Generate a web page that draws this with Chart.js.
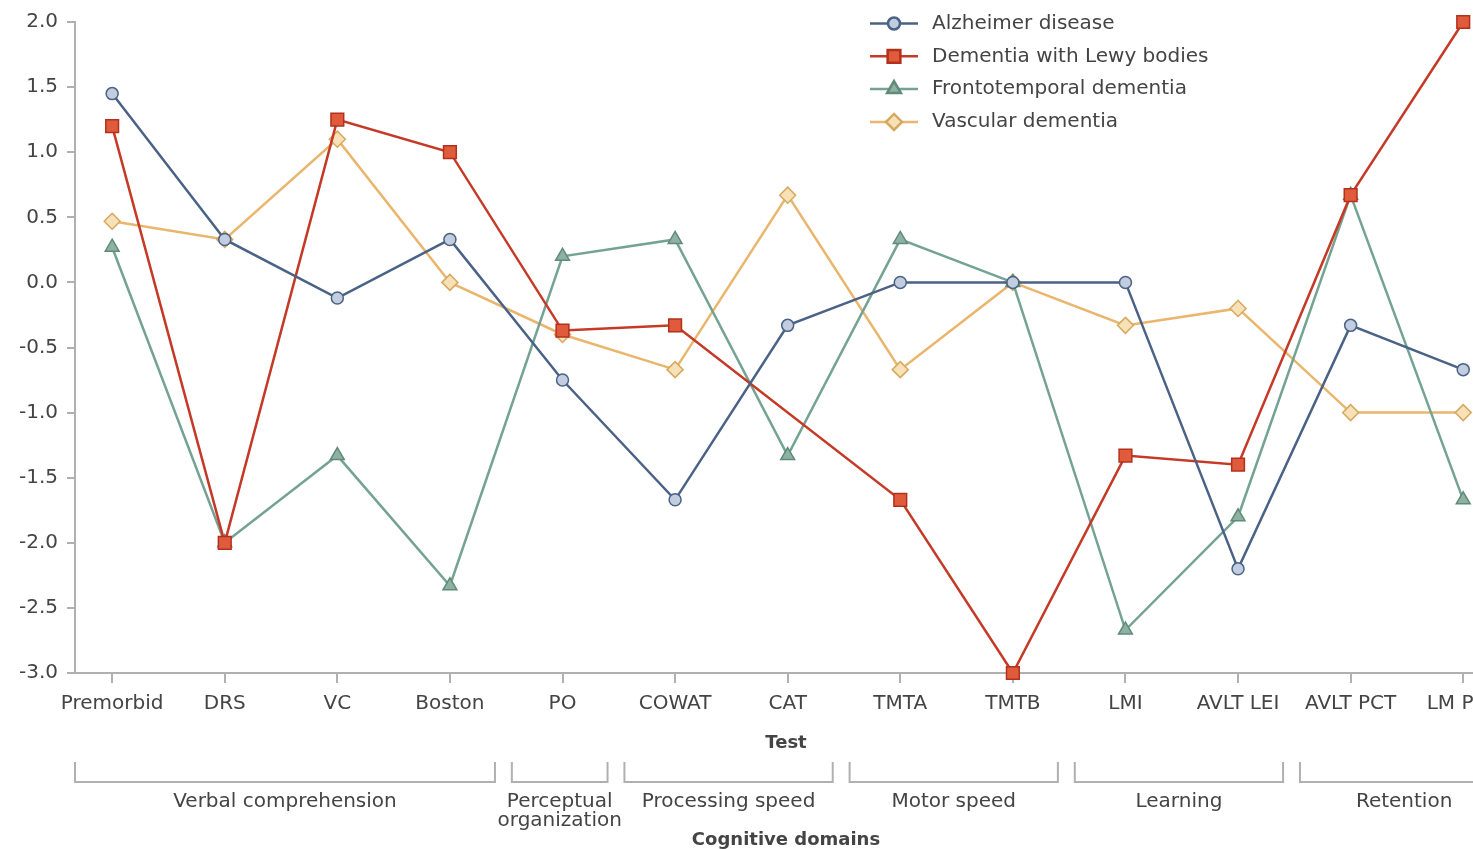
<!DOCTYPE html>
<html>
<head>
<meta charset="utf-8">
<title>Cognitive domains</title>
<script src="https://cdn.jsdelivr.net/npm/chart.js@4.4.1/dist/chart.umd.min.js"></script>
<style>
    html, body { margin: 0; padding: 0; background: #fff; overflow: hidden; }
    #wrap { width: 1510px; height: 849px; }
</style>
</head>
<body>
<div id="wrap"><canvas id="domainChart"></canvas></div>
<script>
const tests = ['Premorbid', 'DRS', 'VC', 'Boston', 'PO', 'COWAT', 'CAT', 'TMTA', 'TMTB', 'LMI', 'AVLT LEI', 'AVLT PCT', 'LM PCT'];

const alzheimer = [1.45, 0.33, -0.12, 0.33, -0.75, -1.67, -0.33, 0, 0, 0, -2.2, -0.33, -0.67];
const lewyBodies = [1.2, -2.0, 1.25, 1.0, -0.37, -0.33, null, -1.67, -3.0, -1.33, -1.4, 0.67, 2.0];
const frontotemporal = [0.27, -2.0, -1.33, -2.33, 0.2, 0.33, -1.33, 0.33, 0, -2.67, -1.8, 0.67, -1.67];
const vascular = [0.47, 0.33, 1.1, 0, -0.4, -0.67, 0.67, -0.67, 0, -0.33, -0.2, -1.0, -1.0];

const domains = ['Verbal comprehension', 'Perceptual\norganization', 'Processing speed', 'Motor speed', 'Learning', 'Retention'];
const domainFirst = [0, 4, 5, 7, 9, 11];
const domainLast = [3, 4, 6, 8, 10, 12];

const FONT = 'DejaVu Sans';
const TEXT = '#444';
const AXIS = '#b0b0b0';

function toPoints(values) {
    return values.map(function(v, i) { return { x: i, y: v }; });
}

// brackets with cognitive domain names under the test axis
const domainBrackets = {
    id: 'domainBrackets',
    afterDraw(chart) {
        const ctx = chart.ctx;
        const xs = chart.scales.x;
        const area = chart.chartArea;
        const step = xs.getPixelForValue(1) - xs.getPixelForValue(0);
        const yTop = area.bottom + 89;
        const yBase = area.bottom + 109;

        ctx.save();
        ctx.strokeStyle = AXIS;
        ctx.lineWidth = 2;
        ctx.fillStyle = TEXT;
        ctx.font = '20px "' + FONT + '"';
        ctx.textAlign = 'center';
        ctx.textBaseline = 'middle';

        domains.forEach(function(name, k) {
            const x1 = Math.max(area.left, xs.getPixelForValue(domainFirst[k]) - step * 0.45);
            const x2 = xs.getPixelForValue(domainLast[k]) + step * 0.4;
            ctx.beginPath();
            ctx.moveTo(x1, yTop);
            ctx.lineTo(x1, yBase);
            ctx.lineTo(x2, yBase);
            ctx.lineTo(x2, yTop);
            ctx.stroke();
            name.split('\n').forEach(function(line, i) {
                ctx.fillText(line, (x1 + x2) / 2, area.bottom + 129 + i * 19);
            });
        });

        ctx.font = 'bold 18px "' + FONT + '"';
        ctx.fillText('Cognitive domains', (area.left + area.right) / 2, area.bottom + 167);
        ctx.restore();
    }
};

// legend drawn as line + marker, like the print figure
const lineLegend = {
    id: 'lineLegend',
    afterDraw(chart) {
        const ctx = chart.ctx;
        const area = chart.chartArea;
        const lx = area.left + 795;
        const ly = area.top + 1.5;

        ctx.save();
        ctx.font = '20px "' + FONT + '"';
        ctx.textAlign = 'left';
        ctx.textBaseline = 'middle';

        chart.data.datasets.forEach(function(ds, i) {
            const y = ly + i * 32.8;
            ctx.strokeStyle = ds.borderColor;
            ctx.lineWidth = 2.5;
            ctx.beginPath();
            ctx.moveTo(lx, y);
            ctx.lineTo(lx + 48, y);
            ctx.stroke();

            ctx.fillStyle = ds.pointBackgroundColor;
            ctx.strokeStyle = ds.pointBorderColor;
            Chart.helpers.drawPoint(ctx, {
                pointStyle: ds.pointStyle,
                radius: ds.pointRadius,
                rotation: 0,
                borderWidth: 1.5
            }, lx + 24, y);

            ctx.fillStyle = TEXT;
            ctx.fillText(ds.label, lx + 62, y);
        });
        ctx.restore();
    }
};

document.addEventListener("DOMContentLoaded", function() {
    const ctx = document.getElementById('domainChart').getContext('2d');

    new Chart(ctx, {
        type: 'line',
        data: {
            datasets: [
                {
                    label: 'Alzheimer disease',
                    data: toPoints(alzheimer),
                    borderColor: '#4a6285',
                    borderWidth: 2.5,
                    pointStyle: 'circle',
                    pointRadius: 6,
                    pointBackgroundColor: '#c3cde0',
                    pointBorderColor: '#4a6285',
                    pointBorderWidth: 1.5,
                },
                {
                    label: 'Dementia with Lewy bodies',
                    data: toPoints(lewyBodies),
                    borderColor: '#c43a26',
                    borderWidth: 2.5,
                    spanGaps: true,
                    pointStyle: 'rect',
                    pointRadius: 9,
                    pointBackgroundColor: '#df5b3c',
                    pointBorderColor: '#b3301d',
                    pointBorderWidth: 1.5,
                },
                {
                    label: 'Frontotemporal dementia',
                    data: toPoints(frontotemporal),
                    borderColor: '#74a293',
                    borderWidth: 2.5,
                    pointStyle: 'triangle',
                    pointRadius: 8,
                    pointBackgroundColor: '#8fb1a2',
                    pointBorderColor: '#5f8b7b',
                    pointBorderWidth: 1.5,
                },
                {
                    label: 'Vascular dementia',
                    data: toPoints(vascular),
                    borderColor: '#eab56c',
                    borderWidth: 2.5,
                    pointStyle: 'rectRot',
                    pointRadius: 8,
                    pointBackgroundColor: '#f7e2b8',
                    pointBorderColor: '#d6a860',
                    pointBorderWidth: 1.5,
                },
            ],
        },
        options: {
            responsive: true,
            maintainAspectRatio: false,
            animation: false,
            clip: false,
            layout: {
                padding: { top: 22, right: 13, bottom: 0, left: 0 }
            },
            scales: {
                x: {
                    type: 'linear',
                    min: -0.33,
                    max: 12.3,
                    afterBuildTicks: function(scale) {
                        scale.ticks = tests.map(function(_, i) { return { value: i }; });
                    },
                    afterFit: function(scale) {
                        scale.height = 176;
                        scale.paddingLeft = 0;
                        scale.paddingRight = 0;
                    },
                    grid: {
                        drawOnChartArea: false,
                        color: AXIS,
                        lineWidth: 2,
                        tickLength: 10,
                    },
                    border: { color: AXIS, width: 2 },
                    ticks: {
                        autoSkip: false,
                        maxRotation: 0,
                        padding: 9,
                        color: TEXT,
                        font: { family: FONT, size: 20 },
                        callback: function(value) { return tests[value]; }
                    },
                    title: {
                        display: true,
                        text: 'Test',
                        color: TEXT,
                        font: { family: FONT, size: 18, weight: 'bold' },
                        padding: { top: 0, bottom: 95 }
                    }
                },
                y: {
                    min: -3,
                    max: 2,
                    afterFit: function(scale) {
                        scale.width = 75;
                        scale.paddingTop = 0;
                        scale.paddingBottom = 0;
                    },
                    grid: {
                        drawOnChartArea: false,
                        color: AXIS,
                        lineWidth: 2,
                        tickLength: 8,
                    },
                    border: { color: AXIS, width: 2 },
                    ticks: {
                        stepSize: 0.5,
                        padding: 9,
                        color: TEXT,
                        font: { family: FONT, size: 20 },
                        callback: function(value) { return value.toFixed(1); }
                    }
                }
            },
            plugins: {
                legend: { display: false },
                tooltip: { enabled: false },
            }
        },
        plugins: [domainBrackets, lineLegend],
    });
});
</script>
</body>
</html>
